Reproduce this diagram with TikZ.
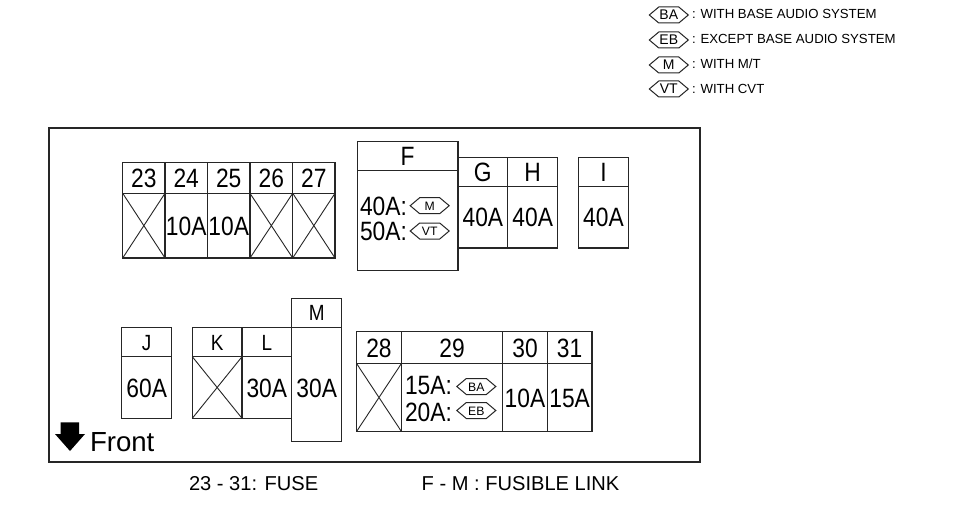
\documentclass[tikz,border=0pt]{standalone}
\usepackage{fontspec}
\setmainfont{Liberation Sans}
\newfontfamily\cond[FakeStretch=.86]{Liberation Sans}
\tikzset{
  x=1pt,y=-1pt,
  line/.style={line width=1.1pt,draw=black!85},
  txt/.style={inner sep=0pt,outer sep=0pt,text=black},
  big/.style={txt,text height=19pt,text depth=0pt,font=\cond\fontsize{26.5}{26.5}\selectfont},
  mid/.style={txt,text height=16pt,text depth=0pt,font=\cond\fontsize{22}{22}\selectfont},
  note/.style={txt,anchor=base west,font=\fontsize{13.2}{13}\selectfont},
  foot/.style={txt,anchor=base west,font=\fontsize{20.1}{20}\selectfont},
  hextxt/.style={txt,text height=10pt,text depth=0pt,font=\fontsize{14}{14}\selectfont},
  smallhextxt/.style={txt,text height=9pt,text depth=0pt,font=\fontsize{12.2}{12}\selectfont},
}
% name, x0,y0,x1,y1, style, text
\newcommand{\cellbox}[7]{%
  \draw[line] (#2,#3) rectangle (#4,#5);
  \node[#6] (#1) at ({(#2+#4)/2},{(#3+#5)/2}) {#7};
  \coordinate (#1nw) at (#2,#3);
  \coordinate (#1se) at (#4,#5);
  \coordinate (#1ne) at (#4,#3);
  \coordinate (#1sw) at (#2,#5);
}
\newcommand{\crossed}[1]{%
  \draw[line,line width=.9pt] (#1nw) -- (#1se) (#1ne) -- (#1sw);
}
% name, cx, cy, style, text
\newcommand{\hexa}[5]{%
  \draw[line,line width=1pt] ({#2-19.5},#3) -- ({#2-10},{#3-8}) -- ({#2+10},{#3-8}) -- ({#2+19.5},#3) -- ({#2+10},{#3+8}) -- ({#2-10},{#3+8}) -- cycle;
  \node[#4] (#1) at (#2,#3) {#5};
}
\begin{document}
\begin{tikzpicture}
\useasboundingbox (0,0) rectangle (954,511);
\fill[white] (0,0) rectangle (954,511);
% legend
\hexa{hBA}{668.8}{15}{hextxt}{BA}
\hexa{hEB}{668.8}{40}{hextxt}{EB}
\hexa{hM}{668.8}{65}{hextxt}{M}
\hexa{hVT}{668.8}{89}{hextxt}{VT}
\node[note] (n1) at (692,19) {: WITH BASE AUDIO SYSTEM};
\node[note] (n2) at (692,44) {: EXCEPT BASE AUDIO SYSTEM};
\node[note] (n3) at (692,69) {: WITH M/T};
\node[note] (n4) at (692,93) {: WITH CVT};
% frame
\draw[line width=2pt,draw=black!85] (49,128) rectangle (699.5,461.5);
% top left fuses
\cellbox{a}{122.7}{162.3}{165}{193.3}{big}{23}
\cellbox{b}{165}{162.3}{207.5}{193.3}{big}{24}
\cellbox{c}{207.5}{162.3}{250}{193.3}{big}{25}
\cellbox{d}{250}{162.3}{292.7}{193.3}{big}{26}
\cellbox{e}{292.7}{162.3}{335}{193.3}{big}{27}
\cellbox{av}{122.7}{193.3}{165}{258}{big}{}
\cellbox{bv}{165}{193.3}{207.5}{258}{big}{10A}
\cellbox{cv}{207.5}{193.3}{250}{258}{big}{10A}
\cellbox{dv}{250}{193.3}{292.7}{258}{big}{}
\cellbox{ev}{292.7}{193.3}{335}{258}{big}{}
\crossed{av}\crossed{dv}\crossed{ev}
% F G H I
\cellbox{g}{458}{157.3}{507.7}{186.7}{big}{G}
\cellbox{h}{507.7}{157.3}{557.7}{186.7}{big}{H}
\cellbox{gv}{458}{186.7}{507.7}{248}{big}{40A}
\cellbox{hv}{507.7}{186.7}{557.7}{248}{big}{40A}
\cellbox{i}{578.7}{157.3}{628.3}{186.7}{big}{I}
\cellbox{iv}{578.7}{186.7}{628.3}{248}{big}{40A}
\cellbox{f}{357.3}{141.7}{458}{170.7}{big}{F}
\cellbox{fv}{357.3}{170.7}{458}{270.7}{big}{}
\node[big,anchor=base west] (f1) at (360,215) {40A:};
\node[big,anchor=base west] (f2) at (360,240) {50A:};
\hexa{fM}{429.7}{205.7}{smallhextxt}{M}
\hexa{fVT}{429.7}{231}{smallhextxt}{VT}
% J K L M
\cellbox{j}{121.7}{327.3}{171.7}{356.7}{mid}{J}
\cellbox{jv}{121.7}{356.7}{171.7}{418.3}{big}{60A}
\cellbox{k}{192.3}{327.3}{242}{356.7}{mid}{K}
\cellbox{kv}{192.3}{356.7}{242}{418.3}{big}{}
\crossed{kv}
\cellbox{l}{242}{327.3}{291.7}{356.7}{mid}{L}
\cellbox{lv}{242}{356.7}{291.7}{418.3}{big}{30A}
\cellbox{m}{291.7}{298.3}{341.7}{327.3}{mid}{M}
\cellbox{mv}{291.7}{327.3}{341.7}{441.7}{big}{}
\node[big] (mt) at (316.7,387.5) {30A};
% 28-31
\cellbox{r}{356.7}{331.7}{401.3}{363.7}{big}{28}
\cellbox{s}{401.3}{331.7}{502.7}{363.7}{big}{29}
\cellbox{t}{502.7}{331.7}{547.3}{363.7}{big}{30}
\cellbox{u}{547.3}{331.7}{592}{363.7}{big}{31}
\cellbox{rv}{356.7}{363.7}{401.3}{431.3}{big}{}
\crossed{rv}
\cellbox{sv}{401.3}{363.7}{502.7}{431.3}{big}{}
\cellbox{tv}{502.7}{363.7}{547.3}{431.3}{big}{10A}
\cellbox{uv}{547.3}{363.7}{592}{431.3}{big}{15A}
\node[big,anchor=base west] (s1) at (405,394) {15A:};
\node[big,anchor=base west] (s2) at (405,421) {20A:};
\hexa{sBA}{476.3}{386.5}{smallhextxt}{BA}
\hexa{sEB}{476.3}{410.5}{smallhextxt}{EB}
% front
\fill[black] (60.7,422.3) -- (79,422.3) -- (79,434) -- (85,434) -- (70,451) -- (55,434) -- (60.7,434) -- cycle;
\node[txt,anchor=base west,font=\fontsize{27.6}{27.6}\selectfont] (front) at (90,451) {Front};
\node[foot] (fuse) at (189,490.7) {23 - 31: FUSE};
\node[foot] (link) at (421.7,490.7) {F - M : FUSIBLE LINK};
\end{tikzpicture}
\end{document}
